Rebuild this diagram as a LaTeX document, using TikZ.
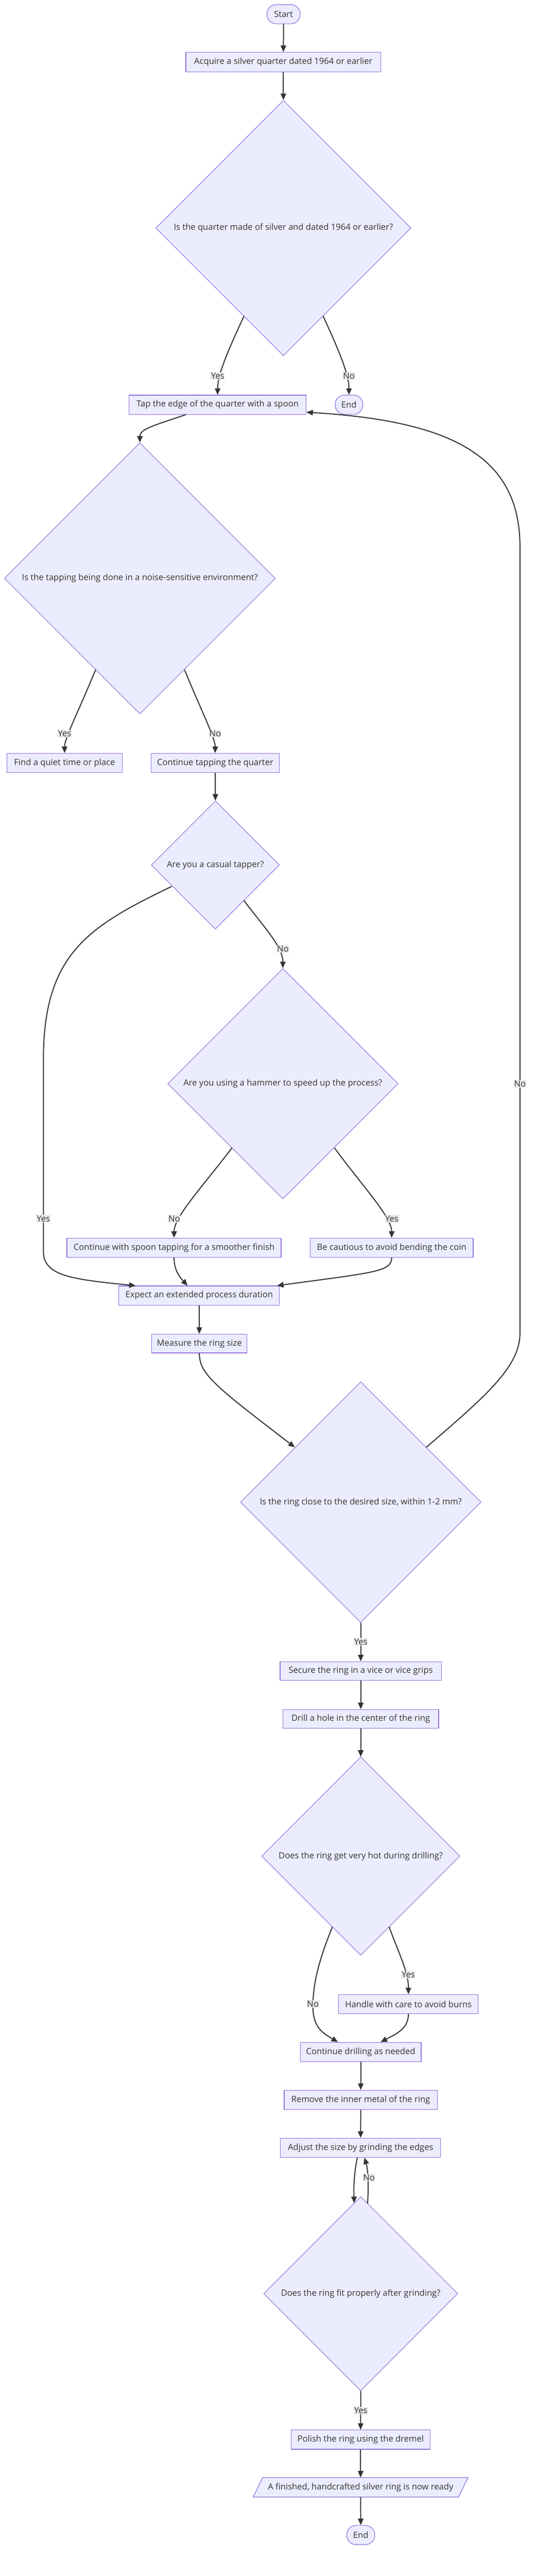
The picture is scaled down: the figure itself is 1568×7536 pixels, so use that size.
\documentclass[tikz,border=0pt]{standalone}
\usepackage{fontspec}
\setmainfont{Open Sans}
\usetikzlibrary{shapes.geometric,arrows.meta,calc}
\definecolor{nodefill}{HTML}{ECECFF}
\definecolor{nodeline}{HTML}{9370DB}
\definecolor{edgecol}{HTML}{333333}
\definecolor{lblbg}{HTML}{E8E8E8}
\begin{document}
\begin{tikzpicture}[x=1pt,y=-1pt,
  every node/.append style={font=\fontsize{25}{30}\selectfont, text=edgecol},
  procbox/.style={rectangle, draw=nodeline, fill=nodefill, line width=1.8pt, inner sep=0pt, minimum height=56pt},
  termbox/.style={rectangle, rounded corners=27pt, draw=nodeline, fill=nodefill, line width=1.8pt, inner sep=0pt, minimum height=56pt},
  decision/.style={diamond, aspect=1, draw=nodeline, fill=nodefill, line width=1.6pt, inner sep=0pt},
  edge/.style={draw=edgecol, line width=3pt, -{Triangle[length=19pt,width=16pt]}},
  elabel/.style={fill=lblbg, inner xsep=1pt, inner ysep=2pt}]
\useasboundingbox (0,0) rectangle (1568,7536);
\fill[white] (0,0) rectangle (1568,7536);

% nodes
\node[termbox, minimum width=97pt] (start) at (830,41.5) {Start};
\node[procbox, minimum width=571pt, minimum height=57pt] (acquire) at (829.5,181.5) {Acquire a silver quarter dated 1964 or earlier};
\node[decision, minimum width=747pt, minimum height=747pt] (d1) at (829.5,667) {Is the quarter made of silver and dated 1964 or earlier?};
\node[procbox, minimum width=518pt] (tap) at (637,1184) {Tap the edge of the quarter with a spoon};
\node[termbox, minimum width=81pt] (end1) at (1021.5,1184) {End};
\node[decision, minimum width=793pt, minimum height=793pt] (d2) at (409.5,1692) {Is the tapping being done in a noise-sensitive environment?};
\node[procbox, minimum width=338pt] (quiet) at (189,2232) {Find a quiet time or place};
\node[procbox, minimum width=376pt] (conttap) at (630,2232) {Continue tapping the quarter};
\node[decision, minimum width=375pt, minimum height=375pt] (d3) at (630.5,2530.5) {Are you a casual tapper?};
\node[decision, minimum width=674pt, minimum height=674pt] (d4) at (828,3170) {Are you using a hammer to speed up the process?};
\node[procbox, minimum width=627pt] (spoon) at (509.5,3650) {Continue with spoon tapping for a smoother finish};
\node[procbox, minimum width=477pt] (caut) at (1146.5,3650) {Be cautious to avoid bending the coin};
\node[procbox, minimum width=470pt] (expect) at (583,3790) {Expect an extended process duration};
\node[procbox, minimum width=279pt, minimum height=55pt] (measure) at (583.5,3930.5) {Measure the ring size};
\node[decision, minimum width=704pt, minimum height=704pt] (d5) at (1056,4394.5) {Is the ring close to the desired size, within 1-2 mm?};
\node[procbox, minimum width=472pt, minimum height=55pt] (secure) at (1056,4888.5) {Secure the ring in a vice or vice grips};
\node[procbox, minimum width=456pt, minimum height=55pt] (drill) at (1056,5028.5) {Drill a hole in the center of the ring};
\node[decision, minimum width=580pt, minimum height=580pt] (d6) at (1056,5430) {Does the ring get very hot during drilling?};
\node[procbox, minimum width=409pt] (handle) at (1195.5,5863) {Handle with care to avoid burns};
\node[procbox, minimum width=354pt] (contdrill) at (1056,6003) {Continue drilling as needed};
\node[procbox, minimum width=448pt] (remove) at (1056,6143) {Remove the inner metal of the ring};
\node[procbox, minimum width=469pt] (adjust) at (1055.5,6283) {Adjust the size by grinding the edges};
\node[decision, minimum width=568pt, minimum height=568pt] (d7) at (1056,6710) {Does the ring fit properly after grinding?};
\node[procbox, minimum width=407pt] (polish) at (1055.5,7137) {Polish the ring using the dremel};
\coordinate (readyc) at (1055.5,7276.5);
\fill[nodefill, draw=nodeline, line width=1.8pt] ($(readyc)+(-286.5,-28.5)$) -- ($(readyc)+(314.5,-28.5)$) -- ($(readyc)+(286.5,28.5)$) -- ($(readyc)+(-314.5,28.5)$) -- cycle;
\node[rectangle, inner sep=0pt, minimum width=629pt, minimum height=57pt] (ready) at (readyc) {A finished, handcrafted silver ring is now ready};
\node[termbox, minimum width=82pt] (end2) at (1056,7416) {End};

% edges
\draw[edge] (start.south) -- (acquire.north);
\draw[edge] (acquire.south) -- (d1.north);
\draw[edge] ($(d1)+(-115.5,258)$) .. controls (668,1025) and (637,1095) .. (tap.north);
\draw[edge] ($(d1)+(116.5,258)$) .. controls (992,1025) and (1021.5,1095) .. (end1.north);
\draw[edge] ($(tap.south west)+(167,0)$) .. controls (450,1245) and (409.5,1255) .. (d2.north);
\draw[edge] ($(d2)+(-129.5,267)$) .. controls (228,2085) and (189,2160) .. (quiet.north);
\draw[edge] ($(d2)+(130.5,267)$) .. controls (592,2085) and (630,2160) .. (conttap.north);
\draw[edge] (conttap.south) -- (d3.north);
\draw[edge] ($(d3)+(-127.5,62.5)$) .. controls (260,2710) and (127,2790) .. (127,3100) -- (127,3660) .. controls (127,3730) and (200,3742) .. ($(expect.north west)+(50,0)$);
\draw[edge] ($(d3)+(83.5,104)$) .. controls (775,2715) and (828,2770) .. (d4.north);
\draw[edge] ($(d4)+(-149,188)$) .. controls (590,3475) and (509.5,3560) .. (spoon.north);
\draw[edge] ($(d4)+(151,188)$) .. controls (1065,3475) and (1146.5,3560) .. (caut.north);
\draw[edge] (spoon.south) .. controls (509.5,3715) and (525,3735) .. ($(expect.north west)+(202,0)$);
\draw[edge] (caut.south) .. controls (1146.5,3720) and (1100,3722) .. ($(expect.north east)+(-8,0)$);
\draw[edge] (expect.south) -- (measure.north);
\draw[edge] (measure.south) .. controls (583.5,4020) and (630,4055) .. ($(d5)+(-193,-160.5)$);
\draw[edge] (d5.south) -- (secure.north);
\draw[edge] ($(d5)+(192,-160.5)$) .. controls (1420,4085) and (1522,4000) .. (1522,3900) -- (1522,1600) .. controls (1522,1345) and (1340,1232) .. ($(tap.east)+(0,22)$);
\draw[edge] (secure.south) -- (drill.north);
\draw[edge] (drill.south) -- (d6.north);
\draw[edge] ($(d6)+(83,207)$) .. controls (1170,5720) and (1195.5,5770) .. (handle.north);
\draw[edge] ($(d6)+(-83,207)$) .. controls (935,5730) and (916,5800) .. (916,5870) .. controls (916,5935) and (950,5950) .. ($(contdrill.north west)+(111,0)$);
\draw[edge] (handle.south) .. controls (1195.5,5935) and (1160,5950) .. ($(contdrill.north west)+(236,0)$);
\draw[edge] (contdrill.south) -- (remove.north);
\draw[edge] (remove.south) -- (adjust.north);
\draw[edge] ($(adjust.south)+(-9.5,0)$) .. controls (1036,6360) and (1035,6400) .. ($(d7)+(-19,-265)$);
\draw[edge] ($(d7)+(20,-264)$) .. controls (1079,6400) and (1078,6350) .. ($(adjust.south)+(11.5,0)$);
\draw[edge] (d7.south) -- (polish.north);
\draw[edge] (polish.south) -- (ready.north);
\draw[edge] (ready.south) -- (end2.north);

% edge labels
\node[elabel] (l1) at (637,1100) {Yes};
\node[elabel] (l2) at (1021.5,1100) {No};
\node[elabel] (l3) at (189,2146) {Yes};
\node[elabel] (l4) at (630,2146) {No};
\node[elabel] (l5) at (127,3565) {Yes};
\node[elabel] (l6) at (828,2776) {No};
\node[elabel] (l7) at (510,3565) {No};
\node[elabel] (l8) at (1147,3565) {Yes};
\node[elabel] (l9) at (1056,4803) {Yes};
\node[elabel] (l10) at (1522,3170) {No};
\node[elabel] (l11) at (1195,5777) {Yes};
\node[elabel] (l12) at (916,5862) {No};
\node[elabel] (l13) at (1080,6370) {No};
\node[elabel] (l14) at (1056,7052) {Yes};
\end{tikzpicture}
\end{document}
